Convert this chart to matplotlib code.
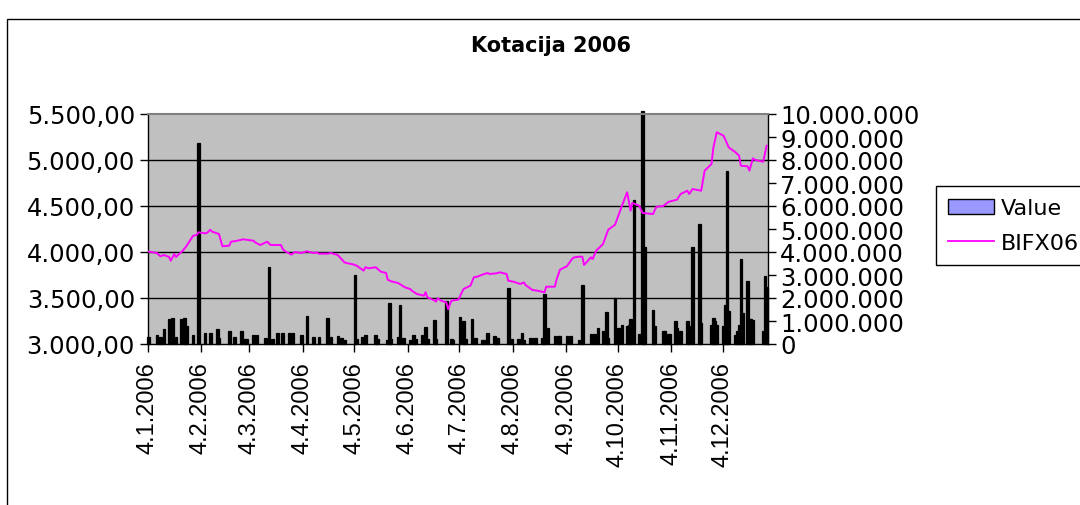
import matplotlib
matplotlib.use('Agg')
import matplotlib.pyplot as plt
import matplotlib.dates as mdates
from matplotlib.patches import Patch, Rectangle
from matplotlib.lines import Line2D
from matplotlib.ticker import FuncFormatter, MultipleLocator
import pandas as pd

# ---------------- data ----------------
line_dates = ['2006-01-04', '2006-01-09', '2006-01-11', '2006-01-13', '2006-01-16', '2006-01-17',
              '2006-01-19', '2006-01-20', '2006-01-24', '2006-01-26', '2006-01-30', '2006-02-01',
              '2006-02-02', '2006-02-06', '2006-02-07', '2006-02-09', '2006-02-10', '2006-02-14',
              '2006-02-16', '2006-02-20', '2006-02-21', '2006-02-24', '2006-02-28', '2006-03-03',
              '2006-03-06', '2006-03-07', '2006-03-08', '2006-03-10', '2006-03-14', '2006-03-16',
              '2006-03-22', '2006-03-23', '2006-03-24', '2006-03-28', '2006-03-30', '2006-04-03',
              '2006-04-06', '2006-04-10', '2006-04-12', '2006-04-13', '2006-04-18', '2006-04-20',
              '2006-04-24', '2006-04-27', '2006-04-28', '2006-05-03', '2006-05-05', '2006-05-09',
              '2006-05-10', '2006-05-12', '2006-05-16', '2006-05-19', '2006-05-22', '2006-05-23',
              '2006-05-25', '2006-05-29', '2006-06-02', '2006-06-05', '2006-06-06', '2006-06-09',
              '2006-06-13', '2006-06-14', '2006-06-15', '2006-06-19', '2006-06-20', '2006-06-21',
              '2006-06-23', '2006-06-26', '2006-06-27', '2006-06-29', '2006-07-03', '2006-07-06',
              '2006-07-10', '2006-07-12', '2006-07-14', '2006-07-18', '2006-07-20', '2006-07-21',
              '2006-07-25', '2006-07-27', '2006-07-31', '2006-08-01', '2006-08-04', '2006-08-08',
              '2006-08-10', '2006-08-11', '2006-08-15', '2006-08-18', '2006-08-22', '2006-08-23',
              '2006-08-28', '2006-08-29', '2006-08-31', '2006-09-04', '2006-09-07', '2006-09-08',
              '2006-09-11', '2006-09-13', '2006-09-14', '2006-09-18', '2006-09-19', '2006-09-21',
              '2006-09-25', '2006-09-28', '2006-10-02', '2006-10-06', '2006-10-09', '2006-10-11',
              '2006-10-12', '2006-10-16', '2006-10-18', '2006-10-24', '2006-10-26', '2006-10-30',
              '2006-11-02', '2006-11-07', '2006-11-09', '2006-11-13', '2006-11-14', '2006-11-16',
              '2006-11-21', '2006-11-23', '2006-11-27', '2006-11-28', '2006-11-30', '2006-12-04',
              '2006-12-07', '2006-12-11', '2006-12-13', '2006-12-14', '2006-12-18', '2006-12-19',
              '2006-12-21', '2006-12-22', '2006-12-27', '2006-12-29']
line_values = [4005, 3989, 3953, 3967, 3946, 3905,
               3978, 3946, 4014, 4062, 4177, 4185,
               4214, 4203, 4207, 4242, 4221, 4196,
               4062, 4069, 4112, 4120, 4138, 4130,
               4123, 4105, 4094, 4076, 4112, 4076,
               4076, 4033, 4014, 3971, 4000, 3989,
               4008, 3989, 3996, 3982, 3982, 3989,
               3967, 3905, 3885, 3865, 3851, 3797,
               3834, 3823, 3834, 3786, 3772, 3699,
               3681, 3663, 3616, 3598, 3579, 3543,
               3525, 3562, 3507, 3475, 3460, 3497,
               3471, 3453, 3380, 3471, 3482, 3598,
               3634, 3725, 3732, 3761, 3772, 3761,
               3768, 3779, 3761, 3688, 3677, 3652,
               3670, 3641, 3587, 3579, 3562, 3623,
               3623, 3700, 3808, 3845, 3924, 3940,
               3949, 3949, 3859, 3942, 3924, 4014,
               4087, 4242, 4297, 4503, 4649, 4449,
               4533, 4503, 4424, 4413, 4492, 4500,
               4545, 4569, 4630, 4666, 4630, 4685,
               4666, 4884, 4957, 5127, 5301, 5264,
               5137, 5083, 5047, 4938, 4931, 4884,
               5018, 5003, 4981, 5155]

bar_dates = ['2006-01-04', '2006-01-09', '2006-01-11', '2006-01-13', '2006-01-16', '2006-01-18',
             '2006-01-20', '2006-01-23', '2006-01-25', '2006-01-26', '2006-01-30', '2006-02-02',
             '2006-02-06', '2006-02-09', '2006-02-13', '2006-02-14', '2006-02-20', '2006-02-23',
             '2006-02-27', '2006-03-01', '2006-03-02', '2006-03-06', '2006-03-08', '2006-03-13',
             '2006-03-15', '2006-03-17', '2006-03-20', '2006-03-23', '2006-03-27', '2006-03-29',
             '2006-04-03', '2006-04-06', '2006-04-10', '2006-04-13', '2006-04-18', '2006-04-20',
             '2006-04-24', '2006-04-26', '2006-04-28', '2006-05-04', '2006-05-05', '2006-05-08',
             '2006-05-10', '2006-05-16', '2006-05-17', '2006-05-23', '2006-05-24', '2006-05-25',
             '2006-05-29', '2006-05-30', '2006-06-01', '2006-06-05', '2006-06-07', '2006-06-08',
             '2006-06-12', '2006-06-14', '2006-06-15', '2006-06-19', '2006-06-20', '2006-06-26',
             '2006-06-29', '2006-06-30', '2006-07-04', '2006-07-06', '2006-07-07', '2006-07-11',
             '2006-07-13', '2006-07-17', '2006-07-18', '2006-07-20', '2006-07-24', '2006-07-25',
             '2006-07-26', '2006-08-01', '2006-08-03', '2006-08-07', '2006-08-09', '2006-08-10',
             '2006-08-14', '2006-08-16', '2006-08-17', '2006-08-21', '2006-08-22', '2006-08-24',
             '2006-08-28', '2006-08-30', '2006-08-31', '2006-09-04', '2006-09-06', '2006-09-11',
             '2006-09-13', '2006-09-18', '2006-09-20', '2006-09-22', '2006-09-25', '2006-09-27',
             '2006-09-28', '2006-10-02', '2006-10-04', '2006-10-06', '2006-10-09', '2006-10-10',
             '2006-10-11', '2006-10-13', '2006-10-16', '2006-10-18', '2006-10-19', '2006-10-24',
             '2006-10-25', '2006-10-30', '2006-10-31', '2006-11-02', '2006-11-03', '2006-11-06',
             '2006-11-07', '2006-11-09', '2006-11-13', '2006-11-14', '2006-11-16', '2006-11-20',
             '2006-11-21', '2006-11-27', '2006-11-28', '2006-11-29', '2006-11-30', '2006-12-04',
             '2006-12-05', '2006-12-06', '2006-12-07', '2006-12-11', '2006-12-12', '2006-12-13',
             '2006-12-14', '2006-12-15', '2006-12-18', '2006-12-19', '2006-12-20', '2006-12-21',
             '2006-12-27', '2006-12-28', '2006-12-29']
bar_values = [300000, 410000, 300000, 650000, 1080000, 1140000,
              300000, 1100000, 1150000, 800000, 390000, 8720000,
              470000, 480000, 670000, 260000, 560000, 300000,
              560000, 220000, 200000, 380000, 380000, 250000,
              3350000, 200000, 480000, 480000, 480000, 480000,
              380000, 1230000, 300000, 290000, 1150000, 290000,
              360000, 260000, 190000, 3000000, 200000, 290000,
              380000, 380000, 200000, 190000, 1780000, 200000,
              290000, 1700000, 240000, 190000, 380000, 200000,
              380000, 720000, 200000, 1060000, 200000, 1860000,
              220000, 190000, 1190000, 1010000, 200000, 1090000,
              260000, 190000, 190000, 480000, 330000, 260000,
              240000, 2420000, 200000, 200000, 480000, 190000,
              260000, 260000, 260000, 260000, 2170000, 680000,
              350000, 350000, 330000, 330000, 330000, 190000,
              2560000, 450000, 450000, 680000, 580000, 1380000,
              250000, 2000000, 680000, 840000, 770000, 840000,
              1090000, 6250000, 450000, 10150000, 4200000, 1480000,
              770000, 580000, 580000, 450000, 450000, 1010000,
              680000, 550000, 1010000, 770000, 4200000, 5220000,
              930000, 840000, 1120000, 1010000, 840000, 770000,
              1700000, 7540000, 1450000, 400000, 580000, 840000,
              3680000, 1350000, 2720000, 1090000, 1090000, 1050000,
              580000, 2970000, 2460000]

tick_dates = ['2006-01-04', '2006-02-04', '2006-03-04', '2006-04-04', '2006-05-04', '2006-06-04',
              '2006-07-04', '2006-08-04', '2006-09-04', '2006-10-04', '2006-11-04', '2006-12-04']
tick_labels = ['4.1.2006', '4.2.2006', '4.3.2006', '4.4.2006', '4.5.2006', '4.6.2006',
               '4.7.2006', '4.8.2006', '4.9.2006', '4.10.2006', '4.11.2006', '4.12.2006']

title_text = 'Kotacija 2006'
series_names = ['Value', 'BIFX06']
left_range = (3000, 5500)
right_range = (0, 10000000)
x_start, x_end = '2006-01-04', '2006-12-30'

# ---------------- figure ----------------
W, H = 1080, 506
fig = plt.figure(figsize=(W / 100, H / 100), dpi=100)
fig.patch.set_facecolor('white')

# chart-area border (continues beyond right/bottom edges)
fig.add_artist(Rectangle((7 / W, -0.1), 1.2, 1.1 - 20 / H, transform=fig.transFigure,
                         fill=False, edgecolor='black', linewidth=1.0))

pl, pr, pt, pb = 147.5, 767.5, 115, 345
rect = [pl / W, (H - pb) / H, (pr - pl) / W, (pb - pt) / H]
ax2 = fig.add_axes(rect)            # right axis, bars (behind)
ax = fig.add_axes(rect, sharex=ax2)  # left axis, line (front)
ax2.set_zorder(1)
ax.set_zorder(2)
ax.patch.set_visible(False)
ax2.set_facecolor('#C0C0C0')

LAB = 17.5
xlab_font = dict(family='Liberation Sans', size=17)

bx = [mdates.date2num(pd.Timestamp(d)) + 0.5 for d in bar_dates]
lx = [mdates.date2num(pd.Timestamp(d)) + 0.5 for d in line_dates]

# gridlines at left-axis major ticks, drawn behind the bars
for v in range(left_range[0] + 500, left_range[1], 500):
    rv = (v - left_range[0]) / (left_range[1] - left_range[0]) * right_range[1]
    ax2.axhline(rv, color='black', linewidth=1.0, zorder=0.5)

ax2.bar(bx, bar_values, width=1.5, color='black', edgecolor='black', linewidth=0.9,
        zorder=2, clip_on=False)
ax2.set_ylim(*right_range)
ax2.yaxis.tick_right()
ax2.yaxis.set_major_locator(MultipleLocator(1000000))
ax2.yaxis.set_major_formatter(FuncFormatter(lambda v, p: f'{int(round(v)):,}'.replace(',', '.')))
ax2.tick_params(axis='y', direction='out', length=6, width=1, pad=3, labelsize=LAB)
for t in ax2.get_yticklabels():
    t.set_fontfamily('DejaVu Sans')
ax2.tick_params(axis='x', which='both', bottom=False, labelbottom=False)
for s in ax2.spines.values():
    s.set_visible(False)

ax.plot(lx, line_values, color='#FF00FF', linewidth=1.4, zorder=3)
ax.set_ylim(*left_range)
ax.yaxis.set_major_locator(MultipleLocator(500))
ax.yaxis.set_major_formatter(FuncFormatter(
    lambda v, p: f'{v:,.2f}'.replace(',', 'X').replace('.', ',').replace('X', '.')))
ax.tick_params(axis='y', direction='out', length=6, width=1, pad=3, labelsize=LAB)
for t in ax.get_yticklabels():
    t.set_fontfamily('DejaVu Sans')

ax.set_xlim(mdates.date2num(pd.Timestamp(x_start)), mdates.date2num(pd.Timestamp(x_end)))
ax.set_xticks([mdates.date2num(pd.Timestamp(d)) for d in tick_dates])
ax.set_xticklabels(tick_labels, rotation=90, va='top', ha='center', **xlab_font)
ax.tick_params(axis='x', direction='out', length=6, width=1, pad=6)

ax.spines['left'].set_color('black')
ax.spines['bottom'].set_color('black')
ax.spines['right'].set_color('black')
ax.spines['top'].set_color('#808080')
for s in ax.spines.values():
    s.set_linewidth(1.0)
ax.spines['top'].set_linewidth(1.5)

fig.text(551 / W, 1 - 46 / H, title_text, ha='center', va='center',
         fontsize=15, fontweight='bold', family='DejaVu Sans')

handles = [Patch(facecolor='#9999FF', edgecolor='black', linewidth=1.0),
           Line2D([0], [0], color='#FF00FF', linewidth=1.3)]
leg = fig.legend(handles, series_names, loc='upper left', bbox_to_anchor=(936 / W, 1 - 187 / H),
                 frameon=True, fancybox=False, edgecolor='black', framealpha=1,
                 prop=dict(family='DejaVu Sans', size=16), handlelength=2.05, handleheight=0.7,
                 handletextpad=0.3, borderpad=0.55, labelspacing=0.65, borderaxespad=0)
leg.get_frame().set_linewidth(1.0)

fig.savefig('out.png', dpi=100, facecolor='white')
